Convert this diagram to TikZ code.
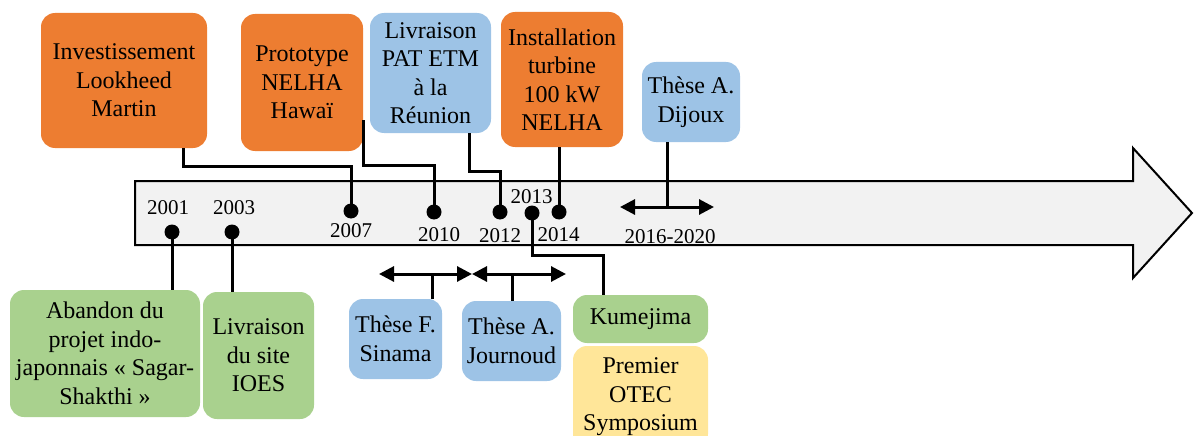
\documentclass[tikz,border=0pt]{standalone}
\usepackage{fontspec}
\setmainfont{Liberation Serif}
\usetikzlibrary{arrows.meta}
\definecolor{evorange}{HTML}{ED7D31}
\definecolor{evblue}{HTML}{9DC3E6}
\definecolor{evgreen}{HTML}{A9D18E}
\definecolor{evyellow}{HTML}{FFE699}
\definecolor{evgrey}{HTML}{F2F2F2}
\newcommand\boxfont{\fontsize{24}{28.5}\selectfont}
\newcommand\yearfont{\fontsize{21}{24}\selectfont}
\begin{document}
\begin{tikzpicture}[x=1pt,y=-1pt,
  evbox/.style={rounded corners=14pt, inner sep=0pt, align=center, font=\boxfont, text=black},
  conn/.style={line width=3pt},
  yeardot/.style={circle, fill=black, inner sep=0pt, minimum size=15pt},
  yr/.style={font=\yearfont, inner sep=0pt},
  spanarrow/.style={line width=3pt, {Triangle[length=15pt,width=15pt]}-{Triangle[length=15pt,width=15pt]}}]
\useasboundingbox (0,0) rectangle (1195,436);

% main timeline arrow
\draw[line width=2pt, fill=evgrey, line join=miter]
  (135,181) -- (1133,181) -- (1133,148) -- (1192,213) -- (1133,278) -- (1133,245) -- (135,245) -- cycle;

% year dots
\node[yeardot] (d2001) at (172,232) {};
\node[yeardot] (d2003) at (232,232) {};
\node[yeardot] (d2007) at (351,211) {};
\node[yeardot] (d2010) at (434,212) {};
\node[yeardot] (d2012) at (500,212) {};
\node[yeardot] (d2013) at (532,213) {};
\node[yeardot] (d2014) at (559,212) {};

% year labels
\node[yr] (y2001) at (168,207.5) {2001};
\node[yr] (y2003) at (234,207.5) {2003};
\node[yr] (y2007) at (351,231) {2007};
\node[yr] (y2010) at (439,234.5) {2010};
\node[yr] (y2012) at (500,236) {2012};
\node[yr] (y2013) at (531.5,196.5) {2013};
\node[yr] (y2014) at (558.5,234.5) {2014};
\node[yr] (y1620) at (670,236.5) {2016-2020};

% top boxes
\node[evbox, fill=evorange, minimum width=166pt, minimum height=135pt] (inv) at (124,80.5) {Investissement\\Lookheed\\Martin};
\node[evbox, fill=evorange, minimum width=122pt, minimum height=137pt] (proto) at (302,82.5) {Prototype\\NELHA\\Hawaï};
\node[evbox, fill=evblue, minimum width=121pt, minimum height=120pt] (pat) at (430.5,73) {Livraison\\PAT ETM\\à la\\Réunion};
\node[evbox, fill=evorange, minimum width=122pt, minimum height=135pt] (inst) at (562,79.5) {Installation\\turbine\\100 kW\\NELHA};
\node[evbox, fill=evblue, minimum width=98pt, minimum height=80pt] (dij) at (691,102) {Thèse A.\\Dijoux};

% bottom boxes
\node[evbox, fill=evgreen, minimum width=190pt, minimum height=127pt] (aband) at (105,353.5) {Abandon du\\projet indo-\\japonnais « Sagar-\\Shakthi »};
\node[evbox, fill=evgreen, minimum width=111pt, minimum height=127pt] (ioes) at (258.5,355.5) {Livraison\\du site\\IOES};
\node[evbox, fill=evblue, minimum width=93pt, minimum height=80pt] (sin) at (395.5,339) {Thèse F.\\Sinama};
\node[evbox, fill=evblue, minimum width=99pt, minimum height=80pt] (jou) at (511.5,341) {Thèse A.\\Journoud};
\node[evbox, fill=evgreen, minimum width=135pt, minimum height=48pt] (kume) at (640.5,319) {Kumejima};
\node[evbox, fill=evyellow, minimum width=135pt, minimum height=102pt] (otec) at (640.5,397) {Premier\\OTEC\\Symposium};

% span coordinates
\coordinate (djl) at (620,207);
\coordinate (djr) at (714,207);
\coordinate (djm) at (667,207);
\coordinate (sil) at (379,274);
\coordinate (sir) at (472,274);
\coordinate (sim) at (432,274);
\coordinate (jol) at (472,274);
\coordinate (jor) at (566,274);
\coordinate (jom) at (512,274);

% connectors
\draw[conn] ([xshift=59pt]inv.south) -- ++(0,18) -| (d2007.center);
\draw[conn] ([yshift=31pt]proto.south east) -- ++(0,45) -| (d2010.center);
\draw[conn] ([xshift=38.5pt]pat.south) -- ++(0,38) -| (d2012.center);
\draw[conn] (inst.south -| d2014) -- (d2014.center);
\draw[conn] (dij.south -| djm) -- (djm);
\draw[spanarrow] (djl) -- (djr);
\draw[conn] (d2001.center) -- (aband.north -| d2001);
\draw[conn] (d2003.center) -- (ioes.north -| d2003);
\draw[conn] (d2013.center) -- ++(0,42) -| ([xshift=-37.5pt]kume.north);
\draw[spanarrow] (sil) -- (sir);
\draw[conn] (sin.north -| sim) -- (sim);
\draw[spanarrow] (jol) -- (jor);
\draw[conn] (jou.north -| jom) -- (jom);
\end{tikzpicture}
\end{document}
